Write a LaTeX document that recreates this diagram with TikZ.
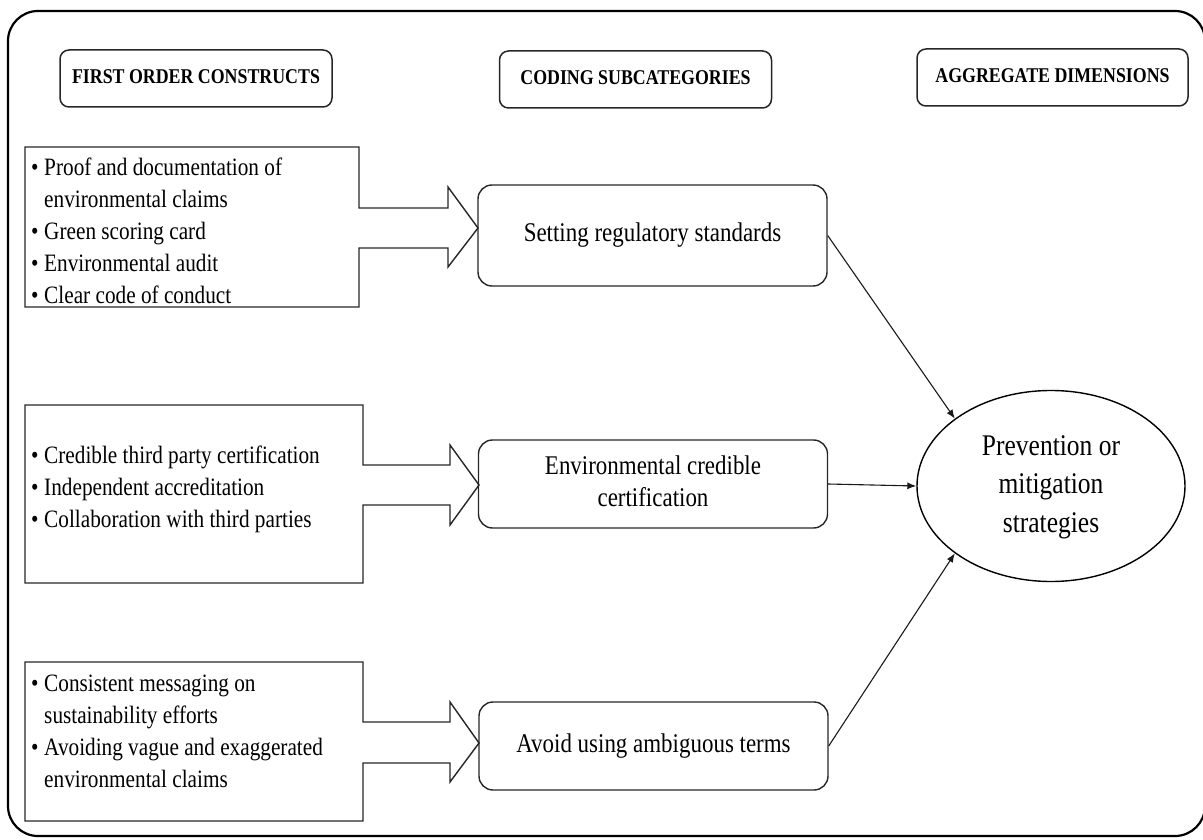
\documentclass[tikz,border=0pt]{standalone}
\usepackage{graphicx}
\usepackage{fontspec}
\setmainfont{Liberation Serif}
\usetikzlibrary{arrows.meta,shapes.geometric}

% horizontally condensed text (single or multi-line, centred)
\newcommand{\narrow}[1]{\scalebox{0.85}[1]{\begin{tabular}{@{}c@{}}#1\end{tabular}}}
% condensed bullet list: bullet column + text column
\newcommand{\bulletlist}[1]{\scalebox{0.85}[1]{\begin{tabular}{@{}l@{\hspace{6.6pt}}l@{}}#1\end{tabular}}}

\tikzset{
  outline/.style={draw=black!85, line width=1.4pt, line join=miter},
  hdrbox/.style={draw=black!85, rounded corners=9pt, line width=1.5pt,
    minimum width=272pt, minimum height=57pt, inner sep=0pt,
    font=\fontsize{21}{25}\selectfont\bfseries},
  subbox/.style={draw=black!85, rounded corners=14pt, line width=1.4pt,
    minimum width=349pt, inner sep=0pt, font=\fontsize{27}{32}\selectfont},
  dimnode/.style={draw=black, ellipse, line width=1.4pt, minimum width=268pt,
    minimum height=191pt, inner sep=0pt, font=\fontsize{30}{38.5}\selectfont},
  listtext/.style={anchor=north west, inner sep=0pt, font=\fontsize{25}{32}\selectfont},
  link/.style={-{Latex[length=9pt,width=7pt]}, line width=1.1pt, draw=black!90},
}

\begin{document}
\begin{tikzpicture}[x=1pt, y=-1pt]
\useasboundingbox (0,0) rectangle (1203,840);

% outer frame
\draw[line width=2.2pt, rounded corners=30pt] (8,11) rectangle (1205,836);

% column headers
\node[hdrbox] (hFirst)  at (196,78.5)   {\narrow{FIRST ORDER CONSTRUCTS}};
\node[hdrbox] (hCoding) at (635.5,79.5) {\narrow{CODING SUBCATEGORIES}};
\node[hdrbox, minimum width=271pt] (hAgg) at (1052.5,77.5) {\narrow{AGGREGATE DIMENSIONS}};

% coding subcategories
\node[subbox, minimum height=101pt] (n1) at (652.5,235.5) {\narrow{Setting regulatory standards}};
\node[subbox, minimum height=88pt]  (n2) at (653,484)     {\narrow{Environmental credible\\certification}};
\node[subbox, minimum height=88pt]  (n3) at (653.5,746)   {\narrow{Avoid using ambiguous terms}};

% aggregate dimension
\node[dimnode] (dim) at (1051,486) {\narrow{Prevention or\\mitigation\\strategies}};

% first-order construct boxes with their block arrows
\coordinate (t1) at (478,228);
\coordinate (t2) at (479,485);
\coordinate (t3) at (479,743);
\draw[outline] (25,147) -- (359,147) -- (359,208) -- (448,208) -- (448,187) -- (t1)
  -- (448,267) -- (448,248) -- (359,248) -- (359,307) -- (25,307) -- cycle;
\draw[outline] (25,405) -- (363,405) -- (363,465) -- (450,465) -- (450,445) -- (t2)
  -- (450,525) -- (450,505) -- (363,505) -- (363,583) -- (25,583) -- cycle;
\draw[outline] (25,662) -- (363,662) -- (363,722) -- (450,722) -- (450,702) -- (t3)
  -- (450,782) -- (450,763) -- (363,763) -- (363,821) -- (25,821) -- cycle;

\node[listtext] (l1) at (31,152.6) {\bulletlist{%
  \textbullet & Proof and documentation of\\
              & environmental claims\\
  \textbullet & Green scoring card\\
  \textbullet & Environmental audit\\
  \textbullet & Clear code of conduct}};
\node[listtext] (l2) at (31,441.1) {\bulletlist{%
  \textbullet & Credible third party certification\\
  \textbullet & Independent accreditation\\
  \textbullet & Collaboration with third parties}};
\node[listtext] (l3) at (31,669.1) {\bulletlist{%
  \textbullet & Consistent messaging on\\
              & sustainability efforts\\
  \textbullet & Avoiding vague and exaggerated\\
              & environmental claims}};

% links to the aggregate dimension
\draw[link] (n1.east) -- (dim.145);
\draw[link] (n2.east) -- (dim.west);
\draw[link] (n3.east) -- (dim.215);
\end{tikzpicture}
\end{document}
